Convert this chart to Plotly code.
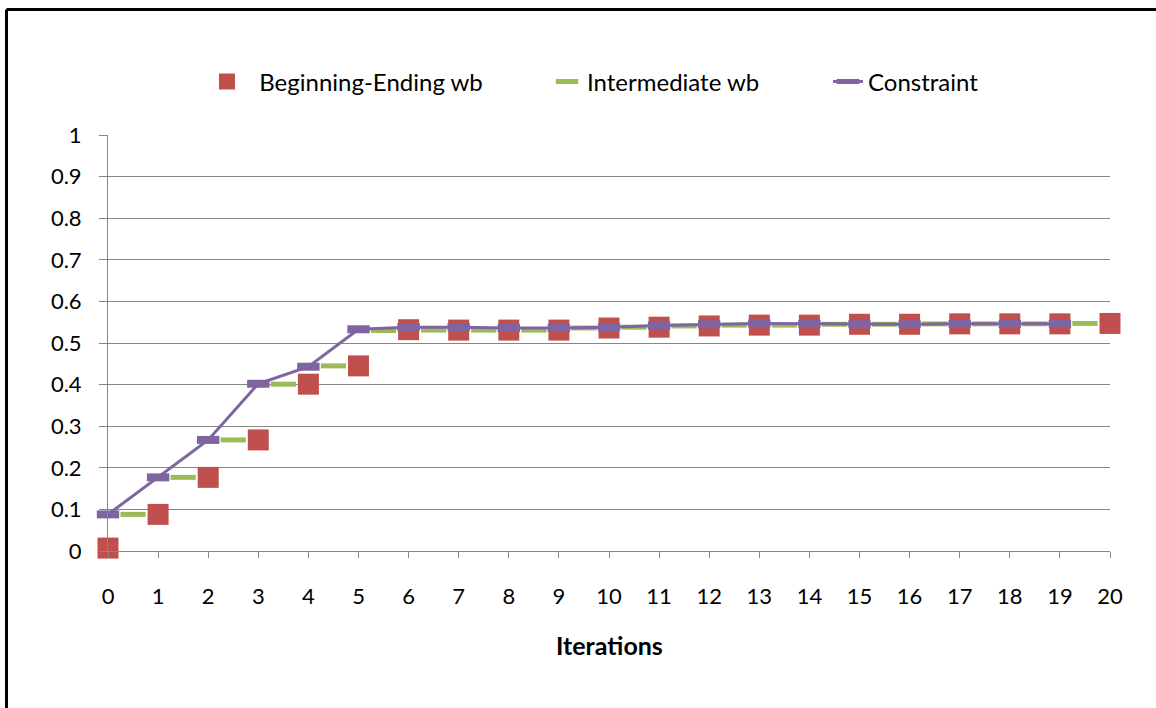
import plotly.graph_objects as go

# ---------------- data ----------------
iterations = [0, 1, 2, 3, 4, 5, 6, 7, 8, 9, 10, 11, 12, 13, 14, 15, 16, 17, 18, 19, 20]
beginning_ending_wb = [0.007, 0.088, 0.177, 0.267, 0.401, 0.445, 0.532, 0.531, 0.531, 0.531,
                       0.536, 0.538, 0.541, 0.543, 0.543, 0.545, 0.545, 0.546, 0.546, 0.546, 0.547]

intermediate_x = [0.5, 1.5, 2.5, 3.5, 4.5, 5.5, 6.5, 7.5, 8.5, 9.5,
                  10.5, 11.5, 12.5, 13.5, 14.5, 15.5, 16.5, 17.5, 18.5, 19.5]
intermediate_wb = [0.088, 0.177, 0.267, 0.401, 0.445, 0.530, 0.531, 0.531, 0.531, 0.536,
                   0.538, 0.541, 0.543, 0.543, 0.545, 0.545, 0.546, 0.546, 0.546, 0.547]

constraint_x = [0, 1, 2, 3, 4, 5, 6, 7, 8, 9, 10, 11, 12, 13, 14, 15, 16, 17, 18, 19]
constraint = [0.088, 0.177, 0.267, 0.402, 0.443, 0.533, 0.538, 0.538, 0.536, 0.536,
              0.538, 0.542, 0.545, 0.547, 0.546, 0.545, 0.545, 0.546, 0.546, 0.546]

x_tick_labels = ["0", "1", "2", "3", "4", "5", "6", "7", "8", "9", "10",
                 "11", "12", "13", "14", "15", "16", "17", "18", "19", "20"]
y_tick_values = [0, 0.1, 0.2, 0.3, 0.4, 0.5, 0.6, 0.7, 0.8, 0.9, 1]
y_tick_labels = ["0", "0.1", "0.2", "0.3", "0.4", "0.5", "0.6", "0.7", "0.8", "0.9", "1"]

# ---------------- style ----------------
RED = "#C0504D"
GREEN = "#9BBB59"
PURPLE = "#8064A2"
GRID = "#868686"
FONT = "Lato"

W, H = 1156, 708
ML, MR, MT, MB = 108, 46, 135, 157
PW, PH = W - ML - MR, H - MT - MB


def px_x(p):
    return (p - ML) / PW


def px_y(p):
    return (H - MB - p) / PH


fig = go.Figure()

fig.add_trace(go.Scatter(
    x=iterations, y=beginning_ending_wb, mode="markers",
    name="&nbsp;&nbsp;Beginning-Ending wb", legend="legend",
    marker=dict(symbol="square", size=21, color=RED, line=dict(width=0)),
    cliponaxis=False,
))
fig.add_trace(go.Scatter(
    x=intermediate_x, y=intermediate_wb, mode="markers",
    name="Intermediate wb", legend="legend2",
    marker=dict(symbol="line-ew", size=18, color=GREEN, line=dict(width=5, color=GREEN)),
    cliponaxis=False,
))
fig.add_trace(go.Scatter(
    x=constraint_x, y=constraint, mode="lines+markers",
    name="Constraint", legend="legend3",
    line=dict(color=PURPLE, width=3),
    marker=dict(symbol="line-ew", size=16, color=PURPLE, line=dict(width=8, color=PURPLE)),
    cliponaxis=False,
))

legend_common = dict(
    orientation="h", yanchor="middle", xanchor="left", y=px_y(82),
    font=dict(family=FONT, size=24, color="#000000"),
    bgcolor="rgba(0,0,0,0)", borderwidth=0,
)

fig.update_layout(
    width=W, height=H, autosize=False,
    margin=dict(l=ML, r=MR, t=MT, b=MB, pad=0),
    paper_bgcolor="#FFFFFF", plot_bgcolor="#FFFFFF",
    font=dict(family=FONT, size=22, color="#000000"),
    showlegend=True,
    legend=dict(x=px_x(207), **legend_common),
    legend2=dict(x=px_x(547), **legend_common),
    legend3=dict(x=px_x(828), **legend_common),
    xaxis=dict(
        range=[0, 20], tickmode="array", tickvals=iterations, ticktext=x_tick_labels,
        showgrid=False, zeroline=False, showline=True, linecolor=GRID, linewidth=1,
        ticks="outside", ticklen=6, tickcolor=GRID, tickwidth=1,
        tickfont=dict(family=FONT, size=22, color="#000000"),
        ticklabelstandoff=20,
    ),
    yaxis=dict(
        range=[0, 1], tickmode="array", tickvals=y_tick_values, ticktext=y_tick_labels,
        showgrid=True, gridcolor=GRID, gridwidth=1, zeroline=False,
        showline=True, linecolor=GRID, linewidth=1,
        ticks="outside", ticklen=8, tickcolor=GRID, tickwidth=1,
        tickfont=dict(family=FONT, size=22, color="#000000"),
        ticklabelstandoff=13,
    ),
    annotations=[dict(
        text="<b>Iterations</b>", x=0.5, y=px_y(645), xref="paper", yref="paper",
        xanchor="center", yanchor="middle", showarrow=False,
        font=dict(family=FONT, size=25, color="#000000"),
    )],
    shapes=[
        dict(type="line", xref="paper", yref="paper",
             x0=px_x(6.5), x1=px_x(6.5), y0=px_y(9.5), y1=px_y(760),
             line=dict(color="#000000", width=3), layer="above"),
        dict(type="line", xref="paper", yref="paper",
             x0=px_x(6.5), x1=px_x(1200), y0=px_y(9.5), y1=px_y(9.5),
             line=dict(color="#000000", width=3), layer="above"),
    ],
)

fig.write_html("out.html", config={"displayModeBar": False},
               post_script="document.body.style.margin='0px';")
